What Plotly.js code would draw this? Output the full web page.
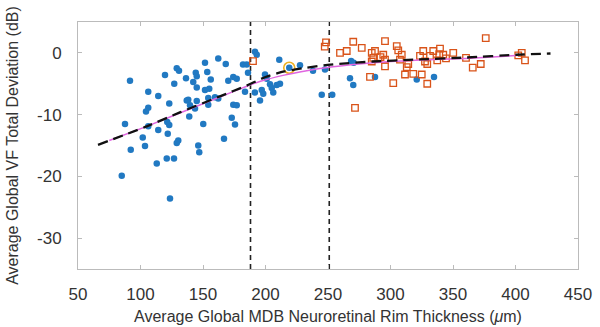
<!DOCTYPE html>
<html>
<head>
<meta charset="utf-8">
<script src="https://cdn.plot.ly/plotly-3.0.1.min.js"></script>
<style>html,body{margin:0;padding:0;background:#fff;}#chart{width:600px;height:327px;}</style>
</head>
<body>
<div id="chart"></div>
<script>
// Blue stars (glaucoma group)
const blueX = [91.6,119.6,129,130.8,151.6,162.2,168.2,182,185,144.2,145,136.4,153.4,156.2,170.2,174.2,177,127,142.2,145,151.6,155,106.2,114.2,123,137,138.2,145,154.2,159.6,162.2,139.6,143.6,154.2,174.2,177,183.6,106.2,104.4,139,173,175.6,150.2,87.6,106.2,121.4,123,114.2,101.8,121.8,103.6,92.2,130.2,129,146.2,147,166.8,113,121,126.8,85,123.6,
  191.6,193,186,199.6,201,211,219,227.6,238,247.6,203.6,209,211.6,205,206.2,197,198.2,195.6,191.5,245,253.4,268.5,270.5,267.6,270.2,287.6,321,334.8];
const blueY = [-4.5,-3.6,-2.5,-2.9,-1.6,-0.9,-1.8,-1.9,-1.9,-3.2,-3.8,-4.1,-3.1,-4.3,-4.5,-3.9,-4.2,-5.0,-4.7,-5.6,-6.0,-5.8,-6.3,-7.0,-8.2,-7.7,-7.6,-7.8,-7.3,-7.2,-7.4,-8.5,-9.0,-8.4,-8.4,-8.5,-6.3,-8.9,-9.5,-10.3,-10.5,-11.6,-11.5,-11.5,-11.9,-11.2,-11.7,-12.5,-13.7,-13.1,-15.1,-15.7,-14.2,-14.6,-15.0,-16.1,-13.9,-17.9,-17.1,-17.1,-19.9,-23.6,
  0.2,-0.3,-3.2,-3.5,-4.2,-1.1,-2.4,-2.0,-2.9,-2.7,-5.1,-5.2,-5.0,-5.7,-6.4,-6.0,-6.6,-7.7,-6.4,-6.8,-6.8,-1.3,-1.6,-4.1,-5.2,-3.9,-4.3,-3.9];

// Orange squares (healthy group)
const orangeX = [190,248.4,247.4,259.6,265,270.2,277,271.6,285,287.6,286.2,285,283.6,294.2,292,295.6,295.6,295.6,302.2,305,306.2,309,307.6,313,314.2,311.6,318.2,325,323.6,326.2,327.6,329.4,329.4,331.6,334.2,337.4,339,339.6,342.2,344.4,350.2,360.4,365.8,372.2,376.2,402.2,405,407.6];
const orangeY = [-1.35,1.7,1.0,0,0.3,1.8,0.8,-8.9,0,0.3,-0.8,-1.4,-3.9,-0.3,-0.7,-1.1,1.9,-2.2,-4.9,1.1,0.4,-0.3,-1.1,-2.3,-1.8,-3.5,-3.4,-3.5,-0.5,0.3,-1.4,-1.8,-5.0,-0.5,0.3,-1.2,-0.2,0.7,-0.3,-0.9,0,-0.8,-2.4,-1.8,2.4,-0.4,0,-1.2];

// Highlighted point
const highlightX = [219];
const highlightY = [-2.4];

// Dashed model curve
const modelX = [66,105,132,164,185,200,215,233,252,286,318,361,401,428];
const modelY = [-14.9,-11.9,-9.6,-7.0,-5.3,-3.9,-3.0,-2.4,-1.9,-1.4,-1.1,-0.75,-0.3,-0.1];

// Magenta fit curve
const fitX = [75,105,132,164,185,196,215,233,252,286,320,360,403];
const fitY = [-14.2,-11.9,-9.7,-7.1,-5.4,-4.6,-3.6,-2.9,-2.3,-1.6,-1.2,-0.9,-0.4];

// Vertical threshold lines
const thresholds = [188, 251];
const yRange = [-35, 5];

const xTicks = [50,100,150,200,250,300,350,400,450];
const yTicks = [-30,-20,-10,0];

const traces = [];
thresholds.forEach(t => traces.push({
  x: [t, t], y: yRange, mode: 'lines', type: 'scatter',
  line: {color: '#222', width: 1.6, dash: '5px,4px'}, hoverinfo: 'skip', showlegend: false
}));
traces.push({
  x: blueX, y: blueY, mode: 'markers', type: 'scatter',
  marker: {symbol: 'circle', size: 6.5, color: '#2179c2', line: {width: 0}}, showlegend: false
});
traces.push({
  x: orangeX, y: orangeY, mode: 'markers', type: 'scatter',
  marker: {symbol: 'square-open', size: 6.5, color: '#D95319', line: {width: 1.3}}, showlegend: false
});
traces.push({
  x: highlightX, y: highlightY, mode: 'markers', type: 'scatter',
  marker: {symbol: 'circle-open', size: 11, color: '#EDB120', line: {width: 1.6}}, showlegend: false
});
traces.push({
  x: fitX, y: fitY, mode: 'lines', type: 'scatter',
  line: {color: '#E066E0', width: 1.5, shape: 'spline', smoothing: 0.6}, showlegend: false
});
traces.push({
  x: modelX, y: modelY, mode: 'lines', type: 'scatter',
  line: {color: '#111', width: 2.3, dash: '10px,6px', shape: 'spline', smoothing: 0.6}, showlegend: false
});

const fam = 'Liberation Sans, Arial, sans-serif';
const layout = {
  width: 600, height: 327,
  margin: {l: 78, r: 22, t: 22, b: 58},
  paper_bgcolor: '#fff', plot_bgcolor: '#fff',
  font: {family: fam, color: '#333', size: 16},
  showlegend: false,
  xaxis: {
    range: [50, 450], tickvals: xTicks, ticktext: xTicks.map(String),
    ticks: 'inside', ticklen: 4, tickcolor: '#bbb', tickwidth: 1,
    showline: true, linecolor: '#bbb', linewidth: 1, mirror: 'ticks',
    showgrid: false, zeroline: false, ticklabelstandoff: 10,
    tickfont: {family: fam, size: 17, color: '#333'},
    title: {text: 'Average Global MDB Neuroretinal Rim Thickness (<i>μ</i>m)', font: {family: fam, size: 16, color: '#333'}, standoff: 7}
  },
  yaxis: {
    range: yRange, tickvals: yTicks, ticktext: yTicks.map(String),
    ticks: 'inside', ticklen: 4, tickcolor: '#bbb', tickwidth: 1,
    showline: true, linecolor: '#bbb', linewidth: 1, mirror: 'ticks',
    showgrid: false, zeroline: false, ticklabelstandoff: 12,
    tickfont: {family: fam, size: 17, color: '#333'},
    title: {text: 'Average Global VF Total Deviation (dB)', font: {family: fam, size: 16, color: '#333'}, standoff: 14}
  }
};
Plotly.newPlot('chart', traces, layout, {displayModeBar: false, staticPlot: true});
</script>
</body>
</html>
